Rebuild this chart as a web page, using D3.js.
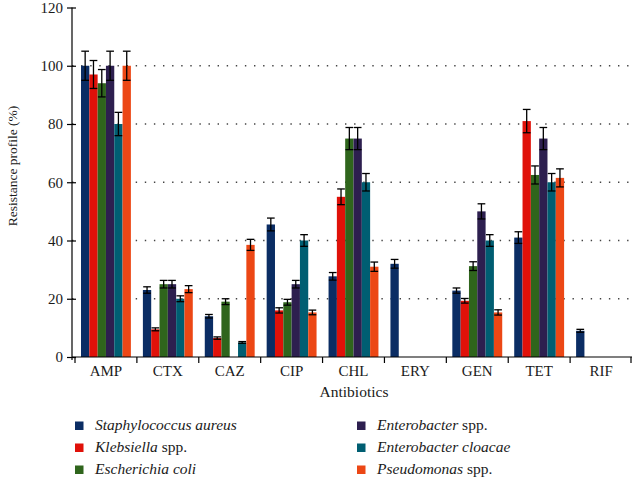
<!DOCTYPE html>
<html><head><meta charset="utf-8">
<script src="https://cdn.jsdelivr.net/npm/d3@7"></script>
<style>
html,body{margin:0;padding:0;background:#fff;}
svg{display:block;}
</style></head>
<body>
<svg id="chart" width="633" height="477"></svg>
<script>
const antibiotics = ["AMP","CTX","CAZ","CIP","CHL","ERY","GEN","TET","RIF"];
const seriesNames = [
  {name:"Staphylococcus aureus", italic:"Staphylococcus aureus", rest:""},
  {name:"Klebsiella spp.", italic:"Klebsiella", rest:" spp."},
  {name:"Escherichia coli", italic:"Escherichia coli", rest:""},
  {name:"Enterobacter spp.", italic:"Enterobacter", rest:" spp."},
  {name:"Enterobacter cloacae", italic:"Enterobacter cloacae", rest:""},
  {name:"Pseudomonas spp.", italic:"Pseudomonas", rest:" spp."}
];
const colors = ["#0b2d64","#e01109","#2f651c","#2d1f4f","#005e72","#ec4715"];
// values per series across antibiotics
const staphylococcus = [100, 23, 14, 45.5, 27.7, 32, 22.8, 41, 9];
const klebsiella     = [97, 9.5, 6.5, 16, 55, 0, 19.3, 81, 0];
const escherichia    = [94, 25, 19, 18.8, 75, 0, 31.2, 62.5, 0];
const enterobacter   = [100, 25, 0, 25, 75, 0, 50, 75, 0];
const cloacae        = [80, 20, 5, 40, 60, 0, 40, 60, 0];
const pseudomonas    = [100, 23.3, 38.5, 15.3, 31, 0, 15.3, 61.5, 0];
// error (± half-range)
const errStaph  = [5, 1.1, 0.6, 2.2, 1.3, 1.5, 0.9, 2, 0.5];
const errKleb   = [4.8, 0.5, 0.4, 0.9, 2.7, 0, 0.8, 4, 0];
const errEcoli  = [4.7, 1.3, 1, 1, 3.8, 0, 1.5, 3.1, 0];
const errEnt    = [5, 1.3, 0, 1.3, 3.8, 0, 2.6, 3.8, 0];
const errCloac  = [4, 1, 0.3, 2, 3, 0, 2, 3, 0];
const errPseudo = [5, 1.2, 1.9, 0.8, 1.6, 0, 0.9, 3.1, 0];
const yTicks = [0,20,40,60,80,100,120];
const gridTicks = [20,40,60,80,100];

const values = [staphylococcus, klebsiella, escherichia, enterobacter, cloacae, pseudomonas];
const errors = [errStaph, errKleb, errEcoli, errEnt, errCloac, errPseudo];

const FONT = "'Liberation Serif', 'Times New Roman', serif";
const svg = d3.select("#chart");
const x0 = d3.scaleBand().domain(antibiotics).range([75, 632]).paddingInner(0).paddingOuter(0);
const x1 = d3.scaleBand().domain(d3.range(6)).range([6, x0.bandwidth()-6]).padding(0);
const y = d3.scaleLinear().domain([0,120]).range([357, 7.5]);

// grid
svg.append("g").selectAll("line").data(gridTicks).join("line")
  .attr("x1", 72).attr("x2", 632)
  .attr("y1", d=>y(d)).attr("y2", d=>y(d))
  .attr("stroke","#444").attr("stroke-width",1.4)
  .attr("stroke-dasharray","1.4,7.7");

// bars
const data = [];
antibiotics.forEach((a,i)=>values.forEach((s,j)=>data.push({a, j, v:s[i], e:errors[j][i]})));
svg.append("g").selectAll("rect").data(data.filter(d=>d.v>0)).join("rect")
  .attr("x", d=>x0(d.a)+x1(d.j))
  .attr("width", x1.bandwidth())
  .attr("y", d=>y(d.v))
  .attr("height", d=>y(0)-y(d.v))
  .attr("fill", d=>colors[d.j]);

// error bars
const eb = svg.append("g").attr("stroke","#000").attr("stroke-width",1.3);
data.filter(d=>d.v>0 && d.e>0).forEach(d=>{
  const cx = x0(d.a)+x1(d.j)+x1.bandwidth()/2;
  const hw = x1.bandwidth()/2 - 0.3;
  eb.append("line").attr("x1",cx).attr("x2",cx).attr("y1",y(d.v+d.e)).attr("y2",y(d.v-d.e));
  eb.append("line").attr("x1",cx-hw).attr("x2",cx+hw).attr("y1",y(d.v+d.e)).attr("y2",y(d.v+d.e));
  eb.append("line").attr("x1",cx-hw).attr("x2",cx+hw).attr("y1",y(d.v-d.e)).attr("y2",y(d.v-d.e));
});

// y axis
const yAxis = svg.append("g").attr("transform","translate(72,0)")
  .call(d3.axisLeft(y).tickValues(yTicks).tickSize(5).tickPadding(4));
yAxis.attr("font-family", FONT).attr("font-size", 15);
yAxis.select(".domain").remove();
yAxis.append("line").attr("x1",0).attr("x2",0).attr("y1",y(120)).attr("y2",360).attr("stroke","#000").attr("stroke-width",1.2);
yAxis.selectAll(".tick line").attr("x1",4).attr("x2",-5).attr("stroke","#000").attr("stroke-width",1.2);
yAxis.selectAll(".tick text").attr("font-size","15px").attr("fill","#1a1a1a").attr("font-family",FONT);

// x axis
const xAxis = svg.append("g").attr("transform","translate(0,357)");
xAxis.append("line").attr("x1",72).attr("x2",632).attr("y1",0).attr("y2",0).attr("stroke","#000").attr("stroke-width",1.2);
const bounds = antibiotics.map(a=>x0(a)).concat([x0.range()[1]-1]);
xAxis.selectAll("line.t").data(bounds).join("line").attr("class","t")
  .attr("x1",d=>d).attr("x2",d=>d).attr("y1",0).attr("y2",6).attr("stroke","#000").attr("stroke-width",1.2);
xAxis.selectAll("text").data(antibiotics).join("text")
  .attr("x", d=>x0(d)+x0.bandwidth()/2).attr("y", 19)
  .attr("text-anchor","middle").attr("font-size","15px").attr("fill","#1a1a1a").attr("font-family",FONT)
  .text(d=>d);

// axis titles
svg.append("text").attr("x",354).attr("y",397).attr("text-anchor","middle").attr("font-family",FONT)
  .attr("font-size","15.5px").attr("fill","#1a1a1a").text("Antibiotics");
svg.append("text").attr("transform","translate(17,166) rotate(-90)").attr("text-anchor","middle").attr("font-family",FONT)
  .attr("font-size","13.5px").attr("fill","#1a1a1a").text("Resistance profile (%)");

// legend
const leg = svg.append("g");
seriesNames.forEach((s,i)=>{
  const col = Math.floor(i/3), row = i%3;
  const lx = col===0 ? 75 : 357;
  const ly = 421.5 + row*22;
  leg.append("rect").attr("x",lx).attr("y",ly).attr("width",8.5).attr("height",8.5).attr("fill",colors[i]);
  const t = leg.append("text").attr("x",lx+20).attr("y",ly+8).attr("font-size","15.5px").attr("fill","#1a1a1a").attr("font-family",FONT);
  t.append("tspan").attr("font-style","italic").text(s.italic);
  if (s.rest) t.append("tspan").text(s.rest);
});
</script>
</body></html>
